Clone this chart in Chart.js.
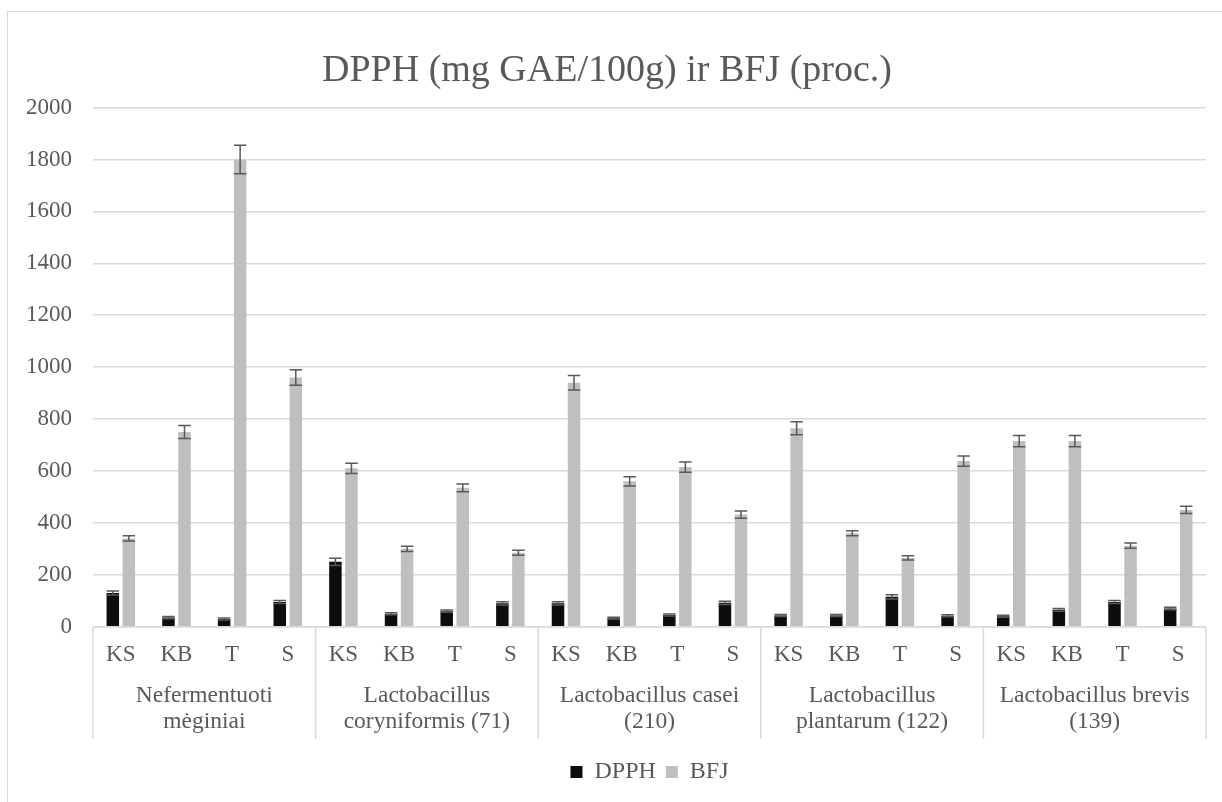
<!DOCTYPE html>
<html>
<head>
<meta charset="utf-8">
<script src="https://cdn.jsdelivr.net/npm/chart.js@4"></script>
<style>
  body { margin: 0; background: #fff; overflow: hidden; }
  #wrap { position: absolute; left: 7px; top: 11px; width: 1230px; height: 802px; border: 1px solid #d9d9d9; box-sizing: border-box; }
</style>
</head>
<body>
<div id="wrap"><canvas id="chart"></canvas></div>
<script>
// DATA
const samples = ["KS", "KB", "T", "S"];
const groups = [
  ["Nefermentuoti", "mėginiai"],
  ["Lactobacillus", "coryniformis (71)"],
  ["Lactobacillus casei", "(210)"],
  ["Lactobacillus", "plantarum (122)"],
  ["Lactobacillus brevis", "(139)"]
];
const dpph = [130, 35, 30, 95, 250, 50, 60, 90, 90, 33, 45, 92, 43, 43, 115, 42, 40, 65, 95, 70];
const dpphErr = [8, 4, 4, 6, 14, 4, 4, 6, 6, 3, 4, 6, 4, 4, 8, 4, 4, 5, 6, 5];
const bfj = [340, 750, 1800, 960, 610, 300, 535, 285, 940, 560, 615, 432, 765, 360, 265, 638, 715, 715, 312, 450];
const bfjErr = [10, 25, 55, 30, 20, 10, 15, 10, 28, 18, 20, 14, 25, 10, 8, 20, 22, 22, 10, 14];

const labels = groups.flatMap(() => samples);
const font = "'Liberation Serif', 'Times New Roman', serif";
const txt = "#595959";
const line = "#d9d9d9";

// error bars drawn through the y scale
const errorBars = {
  id: "errorBars",
  afterDatasetsDraw(chart) {
    const ctx = chart.ctx, y = chart.scales.y;
    chart.data.datasets.forEach((ds, i) => {
      const meta = chart.getDatasetMeta(i);
      meta.data.forEach((bar, j) => {
        const v = ds.data[j], e = ds.errors[j];
        const top = y.getPixelForValue(v + e), bot = y.getPixelForValue(v - e);
        const half = bar.width / 2;
        ctx.save();
        ctx.strokeStyle = "#595959";
        ctx.lineWidth = 1.5;
        ctx.beginPath();
        ctx.moveTo(bar.x, top); ctx.lineTo(bar.x, bot);
        ctx.moveTo(bar.x - half, top); ctx.lineTo(bar.x + half, top);
        ctx.moveTo(bar.x - half, bot); ctx.lineTo(bar.x + half, bot);
        ctx.stroke();
        ctx.restore();
      });
    });
  }
};

// group dividers under the axis
const dividers = {
  id: "dividers",
  afterDraw(chart) {
    const ctx = chart.ctx, x = chart.scales.x;
    const step = (x.right - x.left) / labels.length;
    const bottom = chart.chartArea.bottom;
    ctx.save();
    ctx.strokeStyle = line;
    ctx.lineWidth = 1.5;
    ctx.beginPath();
    ctx.moveTo(x.left, bottom);
    ctx.lineTo(x.right, bottom);
    for (let g = 0; g <= groups.length; g++) {
      const px = x.left + g * samples.length * step;
      ctx.moveTo(px, bottom);
      ctx.lineTo(px, bottom + 112);
    }
    ctx.stroke();
    ctx.restore();
  }
};

new Chart(document.getElementById("chart"), {
  type: "bar",
  data: {
    labels: labels,
    datasets: [
      { label: "DPPH", data: dpph, errors: dpphErr, backgroundColor: "#0d0d0d" },
      { label: "BFJ", data: bfj, errors: bfjErr, backgroundColor: "#bfbfbf" }
    ]
  },
  options: {
    responsive: true,
    maintainAspectRatio: false,
    animation: false,
    categoryPercentage: 0.576,
    barPercentage: 0.78,
    layout: { padding: { top: 0, right: 30, bottom: 18, left: 0 } },
    plugins: {
      title: {
        display: true,
        text: "DPPH (mg GAE/100g) ir BFJ (proc.)",
        color: txt,
        font: { family: font, size: 38, weight: "normal" },
        padding: { top: 36, bottom: 14 }
      },
      legend: {
        position: "bottom",
        fullSize: false,
        labels: {
          color: txt,
          font: { family: font, size: 24 },
          boxWidth: 12,
          boxHeight: 12,
          padding: 10
        }
      },
      tooltip: { enabled: false }
    },
    scales: {
      x: {
        grid: { display: false, drawTicks: false, tickLength: 0 },
        border: { display: false },
        ticks: { color: txt, font: { family: font, size: 23 }, padding: 14, maxRotation: 0 }
      },
      x2: {
        type: "category",
        labels: groups,
        position: "bottom",
        offset: true,
        afterFit(scale) { scale.height += 14; },
        grid: { display: false, drawTicks: false, tickLength: 0 },
        border: { display: false },
        ticks: { color: txt, font: { family: font, size: 23.5, lineHeight: 1.1 }, padding: 1, maxRotation: 0 }
      },
      y: {
        min: 0,
        max: 2000,
        afterFit(scale) { scale.width = 85; },
        border: { display: false },
        grid: { color: line, lineWidth: 1.5, drawTicks: false },
        ticks: { stepSize: 200, color: txt, font: { family: font, size: 23 }, padding: 21, callback: v => String(v) }
      }
    }
  },
  plugins: [errorBars, dividers]
});
</script>
</body>
</html>
